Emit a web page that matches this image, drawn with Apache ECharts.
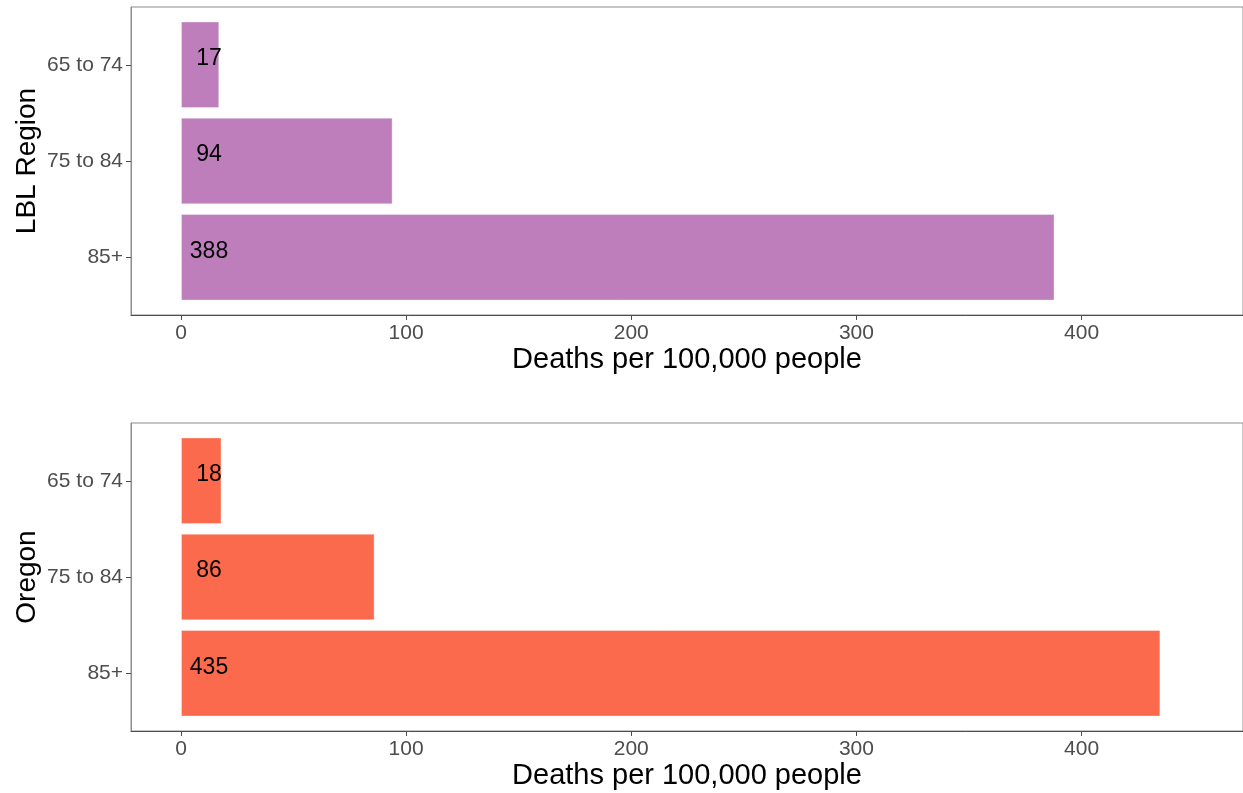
<!DOCTYPE html>
<html>
<head>
<meta charset="utf-8">
<script src="https://cdn.jsdelivr.net/npm/echarts@6/dist/echarts.min.js"></script>
<style>
html,body{margin:0;padding:0;background:#fff;}
#chart{width:1243px;height:793px;}
</style>
</head>
<body>
<div id="chart"></div>
<script>
const categories = ['65 to 74', '75 to 84', '85+'];
const lblValues = [17, 94, 388];
const oregonValues = [18, 86, 435];
const xTickValues = [0, 100, 200, 300, 400];
const panelNames = ['LBL Region', 'Oregon'];
const xTitle = 'Deaths per 100,000 people';
const barColors = ['#BE7EBB', '#FB6A4C'];

const FONT = '"Liberation Sans", Arial, sans-serif';
const X_MIN = -22.2, X_MAX = 471.7;
const panelTops = [7, 423];
const PANEL_H = 308;
const BAND_H = PANEL_H / 3.2;        // px per category unit (0.6 padding each side)
const BAR_INSET = 0.1 * BAND_H;
const LEFT = 131, RIGHT = -1;

const grids = [], xAxes = [], yAxes = [], series = [];
const seriesData = [lblValues, oregonValues];

panelTops.forEach((top, p) => {
  // frame grid
  grids.push({left: LEFT, right: RIGHT, top: top, height: PANEL_H, show: true, borderColor: '#8c8c8c', borderWidth: 1, backgroundColor: 'transparent'});
  const fi = grids.length - 1;
  xAxes.push({
    type: 'value', gridIndex: fi, min: X_MIN, max: X_MAX,
    axisLine: {show: true, onZero: false, lineStyle: {color: '#4d4d4d', width: 1}},
    axisTick: {show: true, length: 5, customValues: xTickValues, lineStyle: {color: '#4d4d4d'}},
    axisLabel: {show: true, customValues: xTickValues, color: '#4d4d4d', fontSize: 21, fontFamily: FONT, margin: 8},
    splitLine: {show: false},
    name: xTitle, nameLocation: 'middle', nameGap: 30,
    nameTextStyle: {color: '#000', fontSize: 29, fontFamily: FONT, verticalAlign: 'top'}
  });
  yAxes.push({
    type: 'value', gridIndex: fi, min: 0, max: 1,
    axisLine: {show: true, onZero: false, lineStyle: {color: '#8c8c8c'}},
    axisTick: {show: false}, axisLabel: {show: false}, splitLine: {show: false},
    name: panelNames[p], nameLocation: 'middle', nameGap: 104, nameRotate: 90,
    nameTextStyle: {color: '#000', fontSize: 28, fontFamily: FONT, verticalAlign: 'middle'}
  });
  // bars grid
  grids.push({left: LEFT, right: RIGHT, top: top + BAR_INSET, height: 3 * BAND_H});
  const bi = grids.length - 1;
  xAxes.push({type: 'value', gridIndex: bi, min: X_MIN, max: X_MAX, show: false, splitLine: {show: false}});
  yAxes.push({
    type: 'category', gridIndex: bi, data: categories, inverse: true,
    axisLine: {show: false, onZero: false},
    axisTick: {show: true, alignWithLabel: true, length: 5, lineStyle: {color: '#4d4d4d'}},
    axisLabel: {color: '#4d4d4d', fontSize: 21, fontFamily: FONT, margin: 8},
    splitLine: {show: false}
  });
  series.push({
    type: 'bar', xAxisIndex: xAxes.length - 1, yAxisIndex: yAxes.length - 1,
    data: seriesData[p], barWidth: '90%',
    itemStyle: {color: barColors[p], borderColor: 'rgba(255,255,255,0.35)', borderWidth: 1},
    label: {
      show: true, position: [28, BAND_H * 0.45 - 6], align: 'center', verticalAlign: 'middle',
      color: '#000', fontSize: 23, fontFamily: FONT
    },
    silent: true, animation: false
  });
});

const chart = echarts.init(document.getElementById('chart'), null, {renderer: 'canvas'});
chart.setOption({
  backgroundColor: '#fff',
  animation: false,
  grid: grids, xAxis: xAxes, yAxis: yAxes, series: series
});
</script>
</body>
</html>
